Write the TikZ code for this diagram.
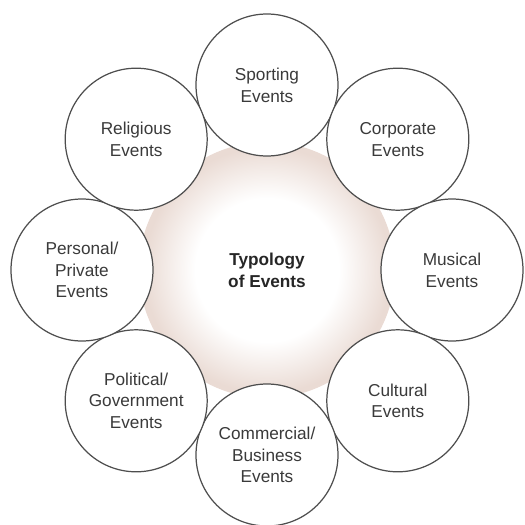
\documentclass[tikz,border=0pt]{standalone}
\usepackage{fontspec}
\setmainfont{Liberation Sans}
\definecolor{hubedge}{RGB}{234,219,212}
\definecolor{ringline}{RGB}{78,78,78}
\definecolor{labeltext}{RGB}{58,58,58}
\pgfdeclareradialshading{hubshade}{\pgfpoint{0bp}{0bp}}{color(0bp)=(white); color(14bp)=(white); color(24bp)=(hubedge); color(50bp)=(hubedge)}

\begin{document}
\begin{tikzpicture}[
    eventcircle/.style={circle,draw=ringline,line width=0.7pt,fill=white,minimum size=2.84cm,
      inner sep=0pt,align=center,text=labeltext,font=\fontsize{9.8}{12.4}\selectfont},
    hubcircle/.style={circle,shading=hubshade,minimum size=5.12cm,inner sep=0pt,align=center,
      text=black!85,font=\fontsize{9.8}{12.4}\selectfont\bfseries}]
      \useasboundingbox (-5.34,-5.10) rectangle (5.16,5.40);
      \node (hub) at (0,0) [hubcircle] {Typology\\of Events};
      \node (sporting) at (90:3.7) [eventcircle] {Sporting\\Events};
      \node (corporate) at (45:3.7) [eventcircle] {Corporate\\Events};
      \node (musical) at (0:3.7) [eventcircle] {Musical\\Events};
      \node (cultural) at (-45:3.7) [eventcircle] {Cultural\\Events};
      \node (commercial) at (-90:3.7) [eventcircle] {Commercial/\\Business\\Events};
      \node (political) at (-135:3.7) [eventcircle] {Political/\\Government\\Events};
      \node (personal) at (180:3.7) [eventcircle] {Personal/\\Private\\Events};
      \node (religious) at (135:3.7) [eventcircle] {Religious\\Events};
    \end{tikzpicture}
\end{document}
